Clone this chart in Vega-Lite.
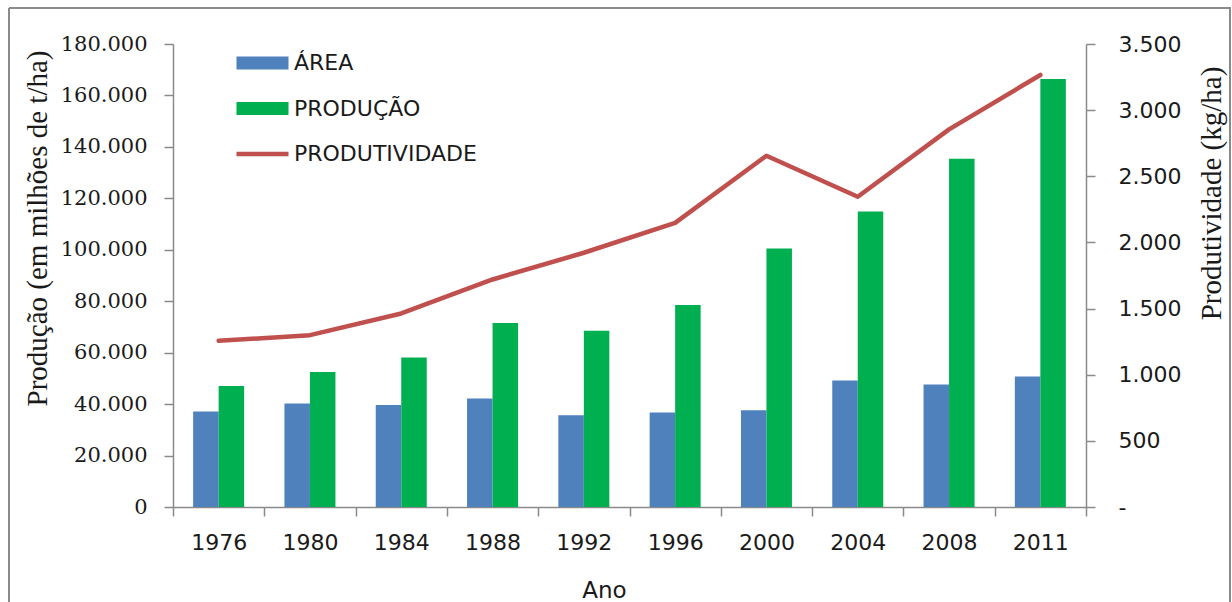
{
  "$schema": "https://vega.github.io/schema/vega-lite/v6.json",
  "autosize": "none",
  "width": 1221,
  "height": 594,
  "padding": {"left": 9, "top": 8, "right": 2, "bottom": 0},
  "background": "white",
  "config": {
    "view": {"stroke": "#8a8a8a", "strokeWidth": 2, "strokeDash": [1815, 1221, 594, 0]},
    "axis": {
      "grid": false,
      "domainColor": "#8a8a8a",
      "domainWidth": 1.5,
      "tickColor": "#8a8a8a",
      "tickWidth": 1.5,
      "tickSize": 9,
      "labelColor": "#1a1a1a",
      "titleColor": "#1a1a1a",
      "titleFontWeight": "normal"
    }
  },
  "datasets": {
    "culturas": [
      {"ano": 1976, "serie": "ÁREA", "valor": 37100},
      {"ano": 1976, "serie": "PRODUÇÃO", "valor": 47000},
      {"ano": 1980, "serie": "ÁREA", "valor": 40200},
      {"ano": 1980, "serie": "PRODUÇÃO", "valor": 52500},
      {"ano": 1984, "serie": "ÁREA", "valor": 39700},
      {"ano": 1984, "serie": "PRODUÇÃO", "valor": 58100},
      {"ano": 1988, "serie": "ÁREA", "valor": 42200},
      {"ano": 1988, "serie": "PRODUÇÃO", "valor": 71500},
      {"ano": 1992, "serie": "ÁREA", "valor": 35700},
      {"ano": 1992, "serie": "PRODUÇÃO", "valor": 68500},
      {"ano": 1996, "serie": "ÁREA", "valor": 36700},
      {"ano": 1996, "serie": "PRODUÇÃO", "valor": 78500},
      {"ano": 2000, "serie": "ÁREA", "valor": 37600},
      {"ano": 2000, "serie": "PRODUÇÃO", "valor": 100500},
      {"ano": 2004, "serie": "ÁREA", "valor": 49200},
      {"ano": 2004, "serie": "PRODUÇÃO", "valor": 114900},
      {"ano": 2008, "serie": "ÁREA", "valor": 47600},
      {"ano": 2008, "serie": "PRODUÇÃO", "valor": 135400},
      {"ano": 2011, "serie": "ÁREA", "valor": 50700},
      {"ano": 2011, "serie": "PRODUÇÃO", "valor": 166400}
    ],
    "produtividade": [
      {"ano": 1976, "serie": "PRODUTIVIDADE", "kg_ha": 1256},
      {"ano": 1980, "serie": "PRODUTIVIDADE", "kg_ha": 1299},
      {"ano": 1984, "serie": "PRODUTIVIDADE", "kg_ha": 1463},
      {"ano": 1988, "serie": "PRODUTIVIDADE", "kg_ha": 1720},
      {"ano": 1992, "serie": "PRODUTIVIDADE", "kg_ha": 1922},
      {"ano": 1996, "serie": "PRODUTIVIDADE", "kg_ha": 2148},
      {"ano": 2000, "serie": "PRODUTIVIDADE", "kg_ha": 2655},
      {"ano": 2004, "serie": "PRODUTIVIDADE", "kg_ha": 2345},
      {"ano": 2008, "serie": "PRODUTIVIDADE", "kg_ha": 2855},
      {"ano": 2011, "serie": "PRODUTIVIDADE", "kg_ha": 3266}
    ]
  },
  "layer": [
    {
      "data": {"name": "culturas"},
      "mark": {"type": "bar"},
      "encoding": {
        "x": {
          "field": "ano",
          "type": "ordinal",
          "scale": {"range": [164, 1077], "paddingInner": 0, "paddingOuter": 0},
          "axis": {
            "orient": "bottom",
            "offset": -95,
            "labelAngle": 0,
            "labelFont": "DejaVu Sans",
            "labelFontSize": 22,
            "labelPadding": 16,
            "tickBand": "extent",
            "title": "Ano",
            "titleFont": "DejaVu Sans",
            "titleFontSize": 23,
            "titleX": 595,
            "titleY": 83,
            "titleAlign": "center",
            "titleBaseline": "middle"
          }
        },
        "xOffset": {
          "field": "serie",
          "scale": {"domain": ["ÁREA", "PRODUÇÃO"], "paddingInner": 0, "paddingOuter": 0.79}
        },
        "y": {
          "field": "valor",
          "type": "quantitative",
          "scale": {"domain": [0, 180000], "range": [499, 36], "nice": false},
          "axis": {
            "orient": "left",
            "offset": -164,
            "values": [0, 20000, 40000, 60000, 80000, 100000, 120000, 140000, 160000, 180000],
            "labelExpr": "datum.value == 0 ? '0' : replace(format(datum.value, ','), ',', '.')",
            "labelFont": "DejaVu Serif",
            "labelFontSize": 21,
            "labelPadding": 17,
            "title": "Produção (em milhões de t/ha)",
            "titleFont": "Liberation Serif",
            "titleFontSize": 29,
            "titleAngle": -90,
            "titleX": -136,
            "titleY": 220,
            "titleAlign": "center",
            "titleBaseline": "middle"
          }
        },
        "color": {
          "field": "serie",
          "type": "nominal",
          "scale": {
            "domain": ["ÁREA", "PRODUÇÃO", "PRODUTIVIDADE"],
            "range": ["#4F81BD", "#00B050", "#C0504D"]
          },
          "legend": {
            "title": null,
            "orient": "none",
            "legendX": 223,
            "legendY": 44,
            "padding": 0,
            "labelFont": "DejaVu Sans",
            "labelFontSize": 22,
            "labelColor": "#1a1a1a",
            "labelOffset": 40,
            "labelLimit": 400,
            "rowPadding": 23.5,
            "symbolSize": 169,
            "encode": {
              "symbols": {
                "update": {
                  "shape": {"signal": "datum.value === 'PRODUTIVIDADE' ? 'M-1,-0.35H7V0.35H-1Z' : 'M-1,-1H7V1H-1Z'"},
                  "fill": {"scale": "color", "field": "value"},
                  "stroke": {"value": "transparent"},
                  "strokeWidth": {"value": 0},
                  "opacity": {"value": 1},
                  "fillOpacity": {"value": 1}
                }
              }
            }
          }
        }
      }
    },
    {
      "data": {"name": "produtividade"},
      "mark": {"type": "line", "strokeWidth": 4.5, "strokeJoin": "round", "strokeCap": "round"},
      "encoding": {
        "x": {
          "field": "ano",
          "type": "ordinal",
          "scale": {"range": [164, 1077], "paddingInner": 0, "paddingOuter": 0}
        },
        "y": {
          "field": "kg_ha",
          "type": "quantitative",
          "scale": {"domain": [0, 3500], "range": [499, 36], "nice": false},
          "axis": {
            "orient": "right",
            "offset": -144,
            "values": [0, 500, 1000, 1500, 2000, 2500, 3000, 3500],
            "labelExpr": "datum.value == 0 ? '-' : replace(format(datum.value, ','), ',', '.')",
            "labelFont": "DejaVu Sans",
            "labelFontSize": 22,
            "labelPadding": 23,
            "title": "Produtividade (kg/ha)",
            "titleFont": "Liberation Serif",
            "titleFontSize": 29,
            "titleAngle": -90,
            "titleX": 125,
            "titleY": 185,
            "titleAlign": "center",
            "titleBaseline": "middle"
          }
        },
        "color": {"field": "serie", "type": "nominal"}
      }
    }
  ],
  "resolve": {"scale": {"y": "independent"}}
}
